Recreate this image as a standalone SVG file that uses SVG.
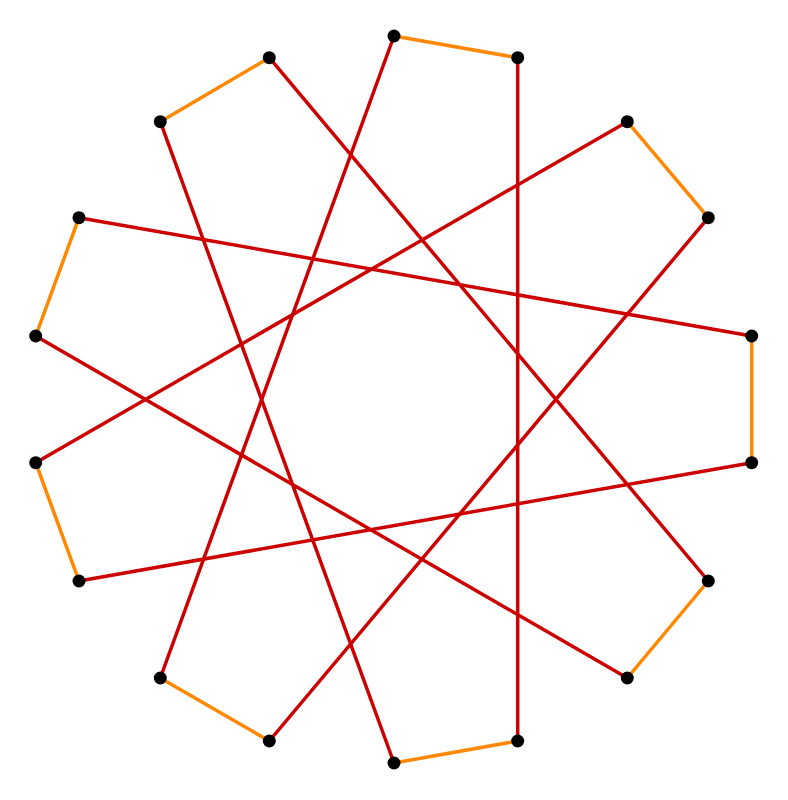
<svg xmlns="http://www.w3.org/2000/svg" width="788" height="800" viewBox="0 0 788 800">
<style>
.o{stroke:#ff8800;stroke-width:3.5;fill:none;stroke-linecap:round}
.r{stroke:#cc0000;stroke-width:3.5;fill:none;stroke-linecap:round}
.v{fill:#000}
</style>
<rect width="788" height="800" fill="#fff"/>
<g id="connectors">
<line class="o" x1="394" y1="36" x2="517.7" y2="57.7"/>
<line class="o" x1="627.3" y1="121.7" x2="708.3" y2="217.7"/>
<line class="o" x1="751.7" y1="336" x2="751.7" y2="462.7"/>
<line class="o" x1="708.3" y1="581" x2="627.3" y2="678"/>
<line class="o" x1="517.7" y1="741" x2="394" y2="763"/>
<line class="o" x1="269.3" y1="741" x2="160.3" y2="678"/>
<line class="o" x1="79" y1="581" x2="35.7" y2="462.7"/>
<line class="o" x1="35.7" y1="336" x2="79" y2="217.7"/>
<line class="o" x1="160.3" y1="121.7" x2="269.3" y2="57.7"/>
<line class="r" x1="394" y1="36" x2="160.3" y2="678"/>
<line class="r" x1="517.7" y1="57.7" x2="517.7" y2="741"/>
<line class="r" x1="627.3" y1="121.7" x2="35.7" y2="462.7"/>
<line class="r" x1="708.3" y1="217.7" x2="269.3" y2="741"/>
<line class="r" x1="751.7" y1="336" x2="79" y2="217.7"/>
<line class="r" x1="751.7" y1="462.7" x2="79" y2="581"/>
<line class="r" x1="708.3" y1="581" x2="269.3" y2="57.7"/>
<line class="r" x1="627.3" y1="678" x2="35.7" y2="336"/>
<line class="r" x1="394" y1="763" x2="160.3" y2="121.7"/>
</g>
<g id="vertices">
<circle id="v1" class="v" cx="394" cy="36" r="6.5"/>
<circle id="v2" class="v" cx="517.7" cy="57.7" r="6.5"/>
<circle id="v3" class="v" cx="627.3" cy="121.7" r="6.5"/>
<circle id="v4" class="v" cx="708.3" cy="217.7" r="6.5"/>
<circle id="v5" class="v" cx="751.7" cy="336" r="6.5"/>
<circle id="v6" class="v" cx="751.7" cy="462.7" r="6.5"/>
<circle id="v7" class="v" cx="708.3" cy="581" r="6.5"/>
<circle id="v8" class="v" cx="627.3" cy="678" r="6.5"/>
<circle id="v9" class="v" cx="517.7" cy="741" r="6.5"/>
<circle id="v10" class="v" cx="394" cy="763" r="6.5"/>
<circle id="v11" class="v" cx="269.3" cy="741" r="6.5"/>
<circle id="v12" class="v" cx="160.3" cy="678" r="6.5"/>
<circle id="v13" class="v" cx="79" cy="581" r="6.5"/>
<circle id="v14" class="v" cx="35.7" cy="462.7" r="6.5"/>
<circle id="v15" class="v" cx="35.7" cy="336" r="6.5"/>
<circle id="v16" class="v" cx="79" cy="217.7" r="6.5"/>
<circle id="v17" class="v" cx="160.3" cy="121.7" r="6.5"/>
<circle id="v18" class="v" cx="269.3" cy="57.7" r="6.5"/>
</g>
</svg>
